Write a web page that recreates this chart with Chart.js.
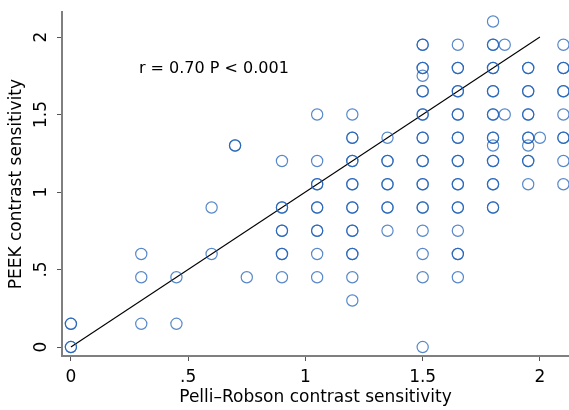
<!DOCTYPE html>
<html>
<head>
<meta charset="utf-8">
<script src="https://cdn.jsdelivr.net/npm/chart.js@4.4.1/dist/chart.umd.min.js"></script>
<style>
    body { margin: 0; background: #fff; }
</style>
</head>
<body>
<canvas id="chart" width="569" height="410"></canvas>
<script>
// one entry per plotted position; subjects = how many people share it
const pelliRobson = [
    0, 0,
    0.3, 0.3, 0.3,
    0.45, 0.45,
    0.6, 0.6,
    0.7,
    0.75,
    0.9, 0.9, 0.9, 0.9, 0.9,
    1.05, 1.05, 1.05, 1.05, 1.05, 1.05, 1.05,
    1.2, 1.2, 1.2, 1.2, 1.2, 1.2, 1.2, 1.2, 1.2,
    1.35, 1.35, 1.35, 1.35, 1.35,
    1.5, 1.5, 1.5, 1.5, 1.5, 1.5, 1.5, 1.5, 1.5, 1.5, 1.5, 1.5, 1.5,
    1.65, 1.65, 1.65, 1.65, 1.65, 1.65, 1.65, 1.65, 1.65, 1.65, 1.65,
    1.8, 1.8, 1.8, 1.8, 1.8, 1.8, 1.8, 1.8, 1.8, 1.8,
    1.85, 1.85,
    1.95, 1.95, 1.95, 1.95, 1.95, 1.95, 1.95,
    2.0,
    2.1, 2.1, 2.1, 2.1, 2.1, 2.1, 2.1
];
const peek = [
    0, 0.15,
    0.6, 0.45, 0.15,
    0.45, 0.15,
    0.9, 0.6,
    1.3,
    0.45,
    1.2, 0.9, 0.75, 0.6, 0.45,
    1.5, 1.2, 1.05, 0.9, 0.75, 0.6, 0.45,
    1.5, 1.35, 1.2, 1.05, 0.9, 0.75, 0.6, 0.45, 0.3,
    1.35, 1.2, 1.05, 0.9, 0.75,
    1.95, 1.8, 1.75, 1.65, 1.5, 1.35, 1.2, 1.05, 0.9, 0.75, 0.6, 0.45, 0,
    1.95, 1.8, 1.65, 1.5, 1.35, 1.2, 1.05, 0.9, 0.75, 0.6, 0.45,
    2.1, 1.95, 1.8, 1.65, 1.5, 1.35, 1.3, 1.2, 1.05, 0.9,
    1.95, 1.5,
    1.8, 1.65, 1.5, 1.35, 1.3, 1.2, 1.05,
    1.35,
    1.95, 1.8, 1.65, 1.5, 1.35, 1.2, 1.05
];
const subjects = [
    2, 2,
    1, 1, 1,
    1, 1,
    1, 1,
    2,
    1,
    1, 2, 2, 2, 1,
    1, 1, 2, 2, 2, 1, 1,
    1, 2, 2, 2, 2, 2, 2, 1, 1,
    1, 2, 2, 2, 1,
    2, 2, 1, 2, 2, 2, 2, 2, 2, 1, 1, 1, 1,
    1, 2, 2, 2, 2, 2, 2, 2, 1, 2, 1,
    1, 2, 2, 2, 2, 2, 1, 2, 2, 2,
    1, 1,
    2, 2, 2, 2, 1, 2, 1,
    1,
    1, 2, 2, 1, 2, 1, 1
];

const fitLineX = [0, 2];
const fitLineY = [0, 2];

const xTicks = [0, 0.5, 1, 1.5, 2];
const yTicks = [0, 0.5, 1, 1.5, 2];

const statsText = "r = 0.70 P < 0.001";
const statsAt = { x: 0.29, y: 1.795 };

const font = "'DejaVu Sans', 'Noto Sans', sans-serif";
const axisGray = "#7f7f7f";

let points = [];
for (let i = 0; i < pelliRobson.length; i++) {
    for (let k = 0; k < subjects[i]; k++) {
        points.push({ x: pelliRobson[i], y: peek[i] });
    }
}

function tickLabel(v) {
    if (v === 0) return "0";
    return String(v).replace(/^0\./, ".");
}

const statsLabel = {
    id: "statsLabel",
    afterDatasetsDraw(chart) {
        const ctx = chart.ctx;
        const x = chart.scales.x.getPixelForValue(statsAt.x);
        const y = chart.scales.y.getPixelForValue(statsAt.y);
        ctx.save();
        ctx.font = "16px " + font;
        ctx.fillStyle = "#000";
        ctx.textAlign = "left";
        ctx.textBaseline = "middle";
        ctx.fillText(statsText, x, y);
        ctx.restore();
    }
};

const ctx = document.getElementById("chart").getContext("2d");

new Chart(ctx, {
    type: "scatter",
    data: {
        datasets: [
            {
                data: points,
                pointStyle: "circle",
                pointRadius: 5.6,
                pointBorderWidth: 1.2,
                borderColor: "rgba(28, 94, 182, 0.74)",
                backgroundColor: "rgba(0, 0, 0, 0)",
                pointHoverRadius: 5.6
            },
            {
                type: "line",
                data: fitLineX.map((x, i) => ({ x: x, y: fitLineY[i] })),
                borderColor: "#000",
                borderWidth: 1.1,
                pointRadius: 0,
                fill: false
            }
        ]
    },
    options: {
        responsive: false,
        animation: false,
        layout: { autoPadding: false, padding: { top: 10, right: 0, left: 0, bottom: 0 } },
        plugins: {
            legend: { display: false },
            tooltip: { enabled: false }
        },
        scales: {
            x: {
                type: "linear",
                min: -0.038,
                max: 2.124,
                afterBuildTicks: s => { s.ticks = xTicks.map(v => ({ value: v })); },
                afterFit: s => { s.height = 54; },
                ticks: {
                    callback: tickLabel,
                    font: { family: font, size: 17 },
                    color: "#000",
                    padding: 6,
                    maxRotation: 0
                },
                grid: { drawOnChartArea: false, tickLength: 5, color: "#555" },
                border: { color: axisGray, width: 2 },
                title: {
                    display: true,
                    text: "Pelli–Robson contrast sensitivity",
                    font: { family: font, size: 17 },
                    color: "#000",
                    padding: { top: 0, bottom: 2 }
                }
            },
            y: {
                type: "linear",
                min: -0.058,
                max: 2.16,
                afterBuildTicks: s => { s.ticks = yTicks.map(v => ({ value: v })); },
                afterFit: s => { s.width = 62; },
                ticks: {
                    callback: tickLabel,
                    font: { family: font, size: 17 },
                    color: "#000",
                    padding: 2,
                    minRotation: 90,
                    maxRotation: 90,
                    crossAlign: "center"
                },
                grid: { drawOnChartArea: false, tickLength: 5, color: "#555" },
                border: { color: axisGray, width: 2 },
                title: {
                    display: true,
                    text: "PEEK contrast sensitivity",
                    font: { family: font, size: 17 },
                    color: "#000",
                    padding: { top: 6, bottom: 0 }
                }
            }
        }
    },
    plugins: [statsLabel]
});
</script>
</body>
</html>
